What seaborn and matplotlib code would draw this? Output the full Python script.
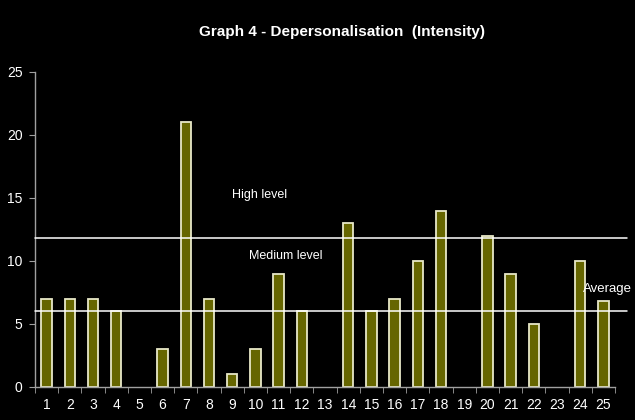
import pandas as pd
import seaborn as sns
import matplotlib.pyplot as plt
from matplotlib.ticker import FixedLocator

# data
subjects = [str(i) for i in range(1, 26)]
intensity = [7, 7, 7, 6, 0, 3, 21, 7, 1, 3, 9, 6, 0, 13, 6, 7, 10, 14, 0, 12, 9, 5, 0, 10, 6.8]
high_level = 11.8
average_level = 6.0

df = pd.DataFrame({"Subject": subjects, "Intensity": intensity})

sns.set_style("dark")
plt.rcParams["font.family"] = ["Liberation Sans", "DejaVu Sans"]

fig = plt.figure(figsize=(6.35, 4.2), dpi=100, facecolor="black")
ax = fig.add_axes([0.0551, 0.0786, 0.9134, 0.75])
ax.set_facecolor("black")

sns.barplot(data=df, x="Subject", y="Intensity", color="#666600", saturation=1,
            width=0.45, edgecolor="#e8e8c8", linewidth=1.3, ax=ax)

# hide the empty bars (edge would show as a stub on the axis)
for p in ax.patches:
    if p.get_height() == 0:
        p.set_visible(False)

ax.set_xlim(-0.5, 24.5)
ax.set_ylim(0, 25)
ax.set_yticks([0, 5, 10, 15, 20, 25])

# level lines run slightly past the plot area, as in the original
for lvl in [high_level, average_level]:
    ax.axhline(lvl, xmin=0, xmax=1.02, color="white", linewidth=1.1, clip_on=False, zorder=3)

ax.text(9.2, 15.2, "High level", color="white", fontsize=9, ha="center", va="center")
ax.text(10.3, 10.4, "Medium level", color="white", fontsize=9, ha="center", va="center")
ax.text(23.1, 7.8, "Average", color="white", fontsize=9.5, ha="left", va="center", clip_on=False)

# excel style: tick marks between categories, labels centred
ax.xaxis.set_minor_locator(FixedLocator([i - 0.5 for i in range(26)]))
ax.tick_params(axis="x", which="major", length=0, colors="white", labelsize=10, pad=8)
ax.tick_params(axis="x", which="minor", length=4, direction="out", color="#a0a0a0", bottom=True)
ax.tick_params(axis="y", length=4, direction="out", color="#a0a0a0", colors="white", labelsize=10, left=True, pad=5)

for side in ["top", "right"]:
    ax.spines[side].set_visible(False)
for side in ["left", "bottom"]:
    ax.spines[side].set_visible(True)
    ax.spines[side].set_color("#a0a0a0")
    ax.spines[side].set_linewidth(1)

ax.grid(False)
ax.set(xlabel=None, ylabel=None)

fig.text(342 / 635, 1 - 32 / 420, "Graph 4 - Depersonalisation  (Intensity)", color="white",
         fontsize=11, fontweight="bold", ha="center", va="center")

plt.savefig("out.png", dpi=100, facecolor="black")
